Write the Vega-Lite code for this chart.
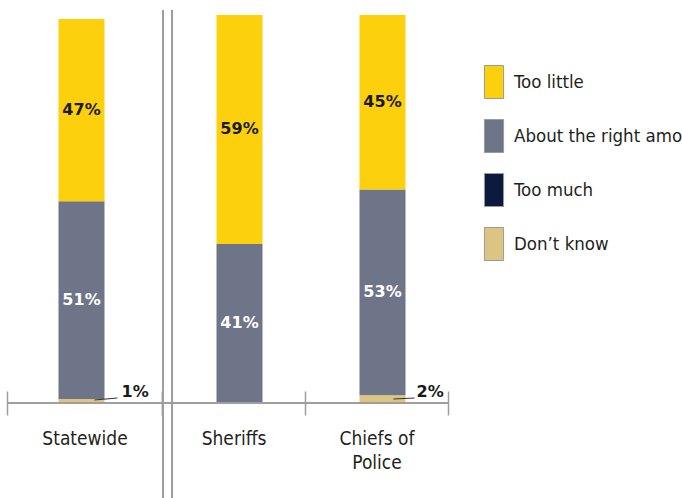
{
  "$schema": "https://vega.github.io/schema/vega-lite/v6.json",
  "padding": {"left": 6, "top": 8, "right": 0, "bottom": 0},
  "autosize": {"type": "pad"},
  "background": "white",
  "spacing": 0,
  "bounds": "flush",
  "config": {"view": {"stroke": null}},
  "datasets": {
    "bars": [
      {"group": "Statewide", "cat": "Don’t know", "pct": 0.01},
      {"group": "Statewide", "cat": "About the right amount", "pct": 0.51},
      {"group": "Statewide", "cat": "Too little", "pct": 0.47},
      {"group": "Sheriffs", "cat": "About the right amount", "pct": 0.41},
      {"group": "Sheriffs", "cat": "Too little", "pct": 0.59},
      {"group": "Chiefs of Police", "cat": "Don’t know", "pct": 0.02},
      {"group": "Chiefs of Police", "cat": "About the right amount", "pct": 0.53},
      {"group": "Chiefs of Police", "cat": "Too little", "pct": 0.45}
    ]
  },
  "hconcat": [
    {
      "width": 155,
      "height": 388,
      "data": {"name": "bars"},
      "transform": [
        {"filter": "datum.group == 'Statewide'"},
        {"stack": "pct", "groupby": ["group"], "as": ["v0", "v1"]}
      ],
      "layer": [
        {
          "mark": {"type": "bar", "width": 46, "xOffset": -3},
          "encoding": {
            "x": {"field": "group", "type": "nominal", "scale": {"paddingInner": 0, "paddingOuter": 0},
              "axis": {"title": null, "domain": false, "grid": false, "tickBand": "extent", "tickSize": 24, "tickColor": "#9e9e9e", "tickWidth": 1.5, "offset": -12, "labelAngle": 0, "labelFont": "'DejaVu Sans Condensed', sans-serif", "labelFontSize": 19, "labelColor": "#231f20", "labelPadding": 14, "labelLineHeight": 24, "labelLimit": 0, "labelExpr": "datum.value == 'Chiefs of Police' ? ['Chiefs of', 'Police'] : datum.value"}},
            "y": {"field": "v0", "type": "quantitative", "scale": {"domain": [0, 1]}, "axis": null},
            "y2": {"field": "v1"},
            "color": {"field": "cat", "type": "nominal",
              "scale": {"domain": ["Too little", "About the right amount", "Too much", "Don’t know"], "range": ["#FCD00C", "#6E7589", "#0B1A3E", "#DCC582"]},
              "legend": {"orient": "none", "legendX": 470, "legendY": 50, "title": null, "padding": 0, "symbolType": "M-0.58,-1H0.58V1H-0.58Z", "symbolSize": 1089, "symbolStrokeColor": "#9a9a9a", "symbolStrokeWidth": 1, "symbolOpacity": 1, "labelFont": "'DejaVu Sans Condensed', sans-serif", "labelFontSize": 18.5, "labelColor": "#231f20", "rowPadding": 16, "labelOffset": 3, "labelLimit": 0}}
          }
        },
        {
          "mark": {"type": "text", "font": "DejaVu Sans", "fontWeight": "bold", "fontSize": 16, "baseline": "middle", "dx": -3},
          "encoding": {
            "x": {"field": "group", "type": "nominal"},
            "y": {"field": "pct", "type": "quantitative", "stack": "zero", "bandPosition": 0.5, "axis": null},
            "detail": {"field": "cat"},
            "order": {"field": "v0", "type": "quantitative", "sort": "ascending"},
            "text": {"field": "pct", "type": "quantitative", "format": ".0%"},
            "color": {"condition": {"test": "datum.cat == 'Too little'", "value": "#1a1a1a"}, "value": "#ffffff"},
            "opacity": {"condition": {"test": "datum.pct < 0.05", "value": 0}, "value": 1}
          }
        },
        {
          "transform": [{"filter": "datum.pct > 0 && datum.pct < 0.05"}],
          "mark": {"type": "text", "font": "DejaVu Sans", "fontWeight": "bold", "fontSize": 16, "baseline": "middle", "align": "left", "dx": 37, "dy": -11, "color": "#1a1a1a"},
          "encoding": {
            "x": {"field": "group", "type": "nominal"},
            "y": {"datum": 0, "type": "quantitative"},
            "text": {"field": "pct", "type": "quantitative", "format": ".0%"}
          }
        },
        {
          "transform": [{"filter": "datum.pct > 0 && datum.pct < 0.05"}],
          "mark": {"type": "rule", "color": "#333333", "strokeWidth": 1, "xOffset": 10, "x2Offset": 33, "yOffset": -3, "y2Offset": -5},
          "encoding": {
            "x": {"field": "group", "type": "nominal", "bandPosition": 0.5},
            "x2": {"field": "group", "bandPosition": 0.5},
            "y": {"datum": 0, "type": "quantitative"},
            "y2": {"datum": 0}
          }
        },
        {
          "mark": {"type": "rule", "color": "#9e9e9e", "strokeWidth": 1.5},
          "encoding": {"y": {"datum": 0, "type": "quantitative"}}
        }
      ]
    },
    {
      "width": 286,
      "height": 388,
      "data": {"name": "bars"},
      "transform": [
        {"filter": "datum.group != 'Statewide'"},
        {"stack": "pct", "groupby": ["group"], "as": ["v0", "v1"]}
      ],
      "layer": [
        {
          "mark": {"type": "bar", "width": 46, "xOffset": 6},
          "encoding": {
            "x": {"field": "group", "type": "nominal", "sort": ["Sheriffs", "Chiefs of Police"], "scale": {"paddingInner": 0, "paddingOuter": 0},
              "axis": {"title": null, "domain": false, "grid": false, "tickBand": "extent", "tickSize": 24, "tickColor": "#9e9e9e", "tickWidth": 1.5, "offset": -12, "labelAngle": 0, "labelFont": "'DejaVu Sans Condensed', sans-serif", "labelFontSize": 19, "labelColor": "#231f20", "labelPadding": 14, "labelLineHeight": 24, "labelLimit": 0, "labelExpr": "datum.value == 'Chiefs of Police' ? ['Chiefs of', 'Police'] : datum.value"}},
            "y": {"field": "v0", "type": "quantitative", "scale": {"domain": [0, 1]}, "axis": null},
            "y2": {"field": "v1"},
            "color": {"field": "cat", "type": "nominal",
              "scale": {"domain": ["Too little", "About the right amount", "Too much", "Don’t know"], "range": ["#FCD00C", "#6E7589", "#0B1A3E", "#DCC582"]},
              "legend": {"orient": "none", "legendX": 470, "legendY": 50, "title": null, "padding": 0, "symbolType": "M-0.58,-1H0.58V1H-0.58Z", "symbolSize": 1089, "symbolStrokeColor": "#9a9a9a", "symbolStrokeWidth": 1, "symbolOpacity": 1, "labelFont": "'DejaVu Sans Condensed', sans-serif", "labelFontSize": 18.5, "labelColor": "#231f20", "rowPadding": 16, "labelOffset": 3, "labelLimit": 0}}
          }
        },
        {
          "mark": {"type": "text", "font": "DejaVu Sans", "fontWeight": "bold", "fontSize": 16, "baseline": "middle", "dx": 6},
          "encoding": {
            "x": {"field": "group", "type": "nominal", "sort": ["Sheriffs", "Chiefs of Police"]},
            "y": {"field": "pct", "type": "quantitative", "stack": "zero", "bandPosition": 0.5, "axis": null},
            "detail": {"field": "cat"},
            "order": {"field": "v0", "type": "quantitative", "sort": "ascending"},
            "text": {"field": "pct", "type": "quantitative", "format": ".0%"},
            "color": {"condition": {"test": "datum.cat == 'Too little'", "value": "#1a1a1a"}, "value": "#ffffff"},
            "opacity": {"condition": {"test": "datum.pct < 0.05", "value": 0}, "value": 1}
          }
        },
        {
          "transform": [{"filter": "datum.pct > 0 && datum.pct < 0.05"}],
          "mark": {"type": "text", "font": "DejaVu Sans", "fontWeight": "bold", "fontSize": 16, "baseline": "middle", "align": "left", "dx": 40, "dy": -11, "color": "#1a1a1a"},
          "encoding": {
            "x": {"field": "group", "type": "nominal", "sort": ["Sheriffs", "Chiefs of Police"]},
            "y": {"datum": 0, "type": "quantitative"},
            "text": {"field": "pct", "type": "quantitative", "format": ".0%"}
          }
        },
        {
          "transform": [{"filter": "datum.pct > 0 && datum.pct < 0.05"}],
          "mark": {"type": "rule", "color": "#333333", "strokeWidth": 1, "xOffset": 17, "x2Offset": 38, "yOffset": -4, "y2Offset": -5},
          "encoding": {
            "x": {"field": "group", "type": "nominal", "sort": ["Sheriffs", "Chiefs of Police"], "bandPosition": 0.5},
            "x2": {"field": "group", "bandPosition": 0.5},
            "y": {"datum": 0, "type": "quantitative"},
            "y2": {"datum": 0}
          }
        },
        {
          "mark": {"type": "rule", "color": "#9e9e9e", "strokeWidth": 1.5},
          "encoding": {"y": {"datum": 0, "type": "quantitative"}}
        },
        {
          "mark": {"type": "rule", "color": "#9e9e9e", "strokeWidth": 2},
          "encoding": {
            "x": {"datum": "Sheriffs", "bandPosition": 0.007},
            "y": {"datum": 1.013, "type": "quantitative"},
            "y2": {"datum": -0.25}
          }
        },
        {
          "mark": {"type": "rule", "color": "#9e9e9e", "strokeWidth": 2},
          "encoding": {
            "x": {"datum": "Sheriffs", "bandPosition": 0.07},
            "y": {"datum": 1.013, "type": "quantitative"},
            "y2": {"datum": -0.25}
          }
        }
      ]
    }
  ]
}
